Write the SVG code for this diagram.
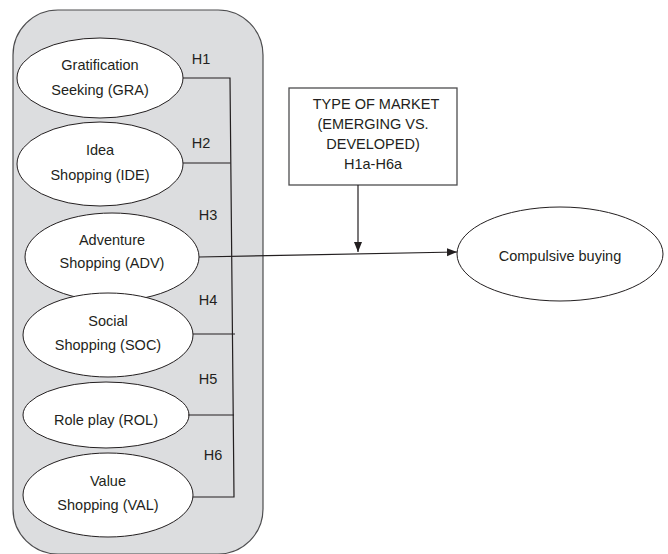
<svg xmlns="http://www.w3.org/2000/svg" width="668" height="554" viewBox="0 0 668 554">
<style>
text{font-family:"Liberation Sans",Arial,sans-serif;font-size:14.5px;fill:#231f20;text-anchor:middle}
.node ellipse{fill:#fff;stroke:#231f20;stroke-width:1}
.conn line,.conn polyline{stroke:#231f20;stroke-width:1.2;fill:none}
</style>
<defs>
<marker id="arr" viewBox="0 0 10 10" refX="10" refY="5" markerWidth="10" markerHeight="10" markerUnits="userSpaceOnUse" orient="auto">
<path d="M0,1 L10,5 L0,9 Z" fill="#231f20"/>
</marker>
</defs>
<rect id="group-bg" x="13" y="10" width="250" height="544" rx="45" ry="45" fill="#dcdddf" stroke="#4d4d4f" stroke-width="1.2"/>
<g id="GRA" class="node"><ellipse cx="100" cy="78" rx="83" ry="40"/><text x="100" y="70">Gratification</text><text x="100" y="95">Seeking (GRA)</text></g>
<g id="IDE" class="node"><ellipse cx="100" cy="164" rx="83" ry="42"/><text x="100" y="155">Idea</text><text x="100" y="180">Shopping (IDE)</text></g>
<g id="ADV" class="node"><ellipse cx="112" cy="257" rx="87" ry="44"/><text x="112" y="245">Adventure</text><text x="112" y="268">Shopping (ADV)</text></g>
<g id="SOC" class="node"><ellipse cx="108" cy="335" rx="85" ry="42"/><text x="108" y="326">Social</text><text x="108" y="350">Shopping (SOC)</text></g>
<g id="ROL" class="node"><ellipse cx="106" cy="415" rx="83" ry="33"/><text x="106" y="425">Role play (ROL)</text></g>
<g id="VAL" class="node"><ellipse cx="108" cy="495" rx="85" ry="42"/><text x="108" y="486">Value</text><text x="108" y="510">Shopping (VAL)</text></g>
<g id="CB" class="node"><ellipse cx="560" cy="254" rx="103" ry="47"/><text x="560" y="261">Compulsive buying</text></g>
<g id="MKT" class="node"><rect x="289" y="88" width="168" height="97" fill="#fff" stroke="#4d4d4f" stroke-width="1.3"/>
<text x="376" y="109">TYPE OF MARKET</text><text x="373" y="129">(EMERGING VS.</text><text x="373" y="149">DEVELOPED)</text><text x="373" y="169">H1a-H6a</text></g>
<g id="connectors" class="conn">
<polyline points="183,78 230,78 234,497 193,497"/>
<line x1="183" y1="163" x2="230.5" y2="163"/>
<line x1="193" y1="334" x2="235" y2="334"/>
<line x1="188" y1="415" x2="234" y2="415"/>
<line x1="199" y1="257" x2="457" y2="252" marker-end="url(#arr)"/>
<line x1="358" y1="185" x2="358" y2="252" marker-end="url(#arr)"/>
</g>
<g id="labels">
<text x="201" y="64">H1</text>
<text x="201" y="148">H2</text>
<text x="208" y="220">H3</text>
<text x="208" y="305">H4</text>
<text x="208" y="384">H5</text>
<text x="213" y="460">H6</text>
</g>
</svg>
